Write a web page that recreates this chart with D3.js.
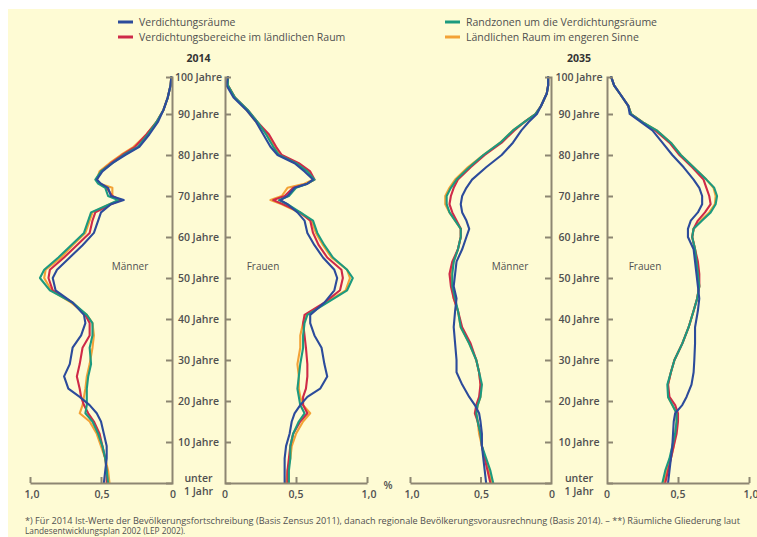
<!DOCTYPE html>
<html><head><meta charset="utf-8">
<script src="https://cdn.jsdelivr.net/npm/d3@7"></script>
<style>
html,body{margin:0;padding:0;background:#fff;}
svg{display:block;font-family:"Open Sans","Noto Sans",sans-serif;}
</style></head>
<body><svg id="c" width="757" height="537"></svg>
<script>
// ---------- DATA (share of population in %, by age) ----------
const ages2014 = [0,3,6,9,12,15,17,19,21,23,26,29,33,36,39,41,44,47,50,52,55,58,61,64,66,68,69,70,72,73,74,76,78,80,82,85,88,91,94,97,99];
const ages2035 = [0,3,6,9,12,15,17,19,21,24,27,30,34,38,42,45,48,51,54,57,60,62,64,66,68,70,72,74,77,80,83,86,88,90,92,95,97,99];

// 2014 Männer
const m2014_vr = [0.48,0.47,0.46,0.46,0.48,0.50,0.53,0.58,0.65,0.73,0.76,0.72,0.70,0.64,0.61,0.62,0.70,0.82,0.84,0.81,0.72,0.63,0.55,0.52,0.50,0.43,0.34,0.43,0.45,0.50,0.53,0.49,0.42,0.33,0.23,0.16,0.10,0.06,0.03,0.01,0.005];
const m2014_vb = [0.46,0.46,0.47,0.49,0.51,0.55,0.59,0.62,0.64,0.65,0.67,0.65,0.63,0.58,0.58,0.61,0.70,0.84,0.87,0.86,0.76,0.67,0.58,0.56,0.54,0.43,0.36,0.42,0.46,0.51,0.53,0.50,0.43,0.35,0.26,0.18,0.11,0.06,0.03,0.01,0.005];
const m2014_rz = [0.45,0.46,0.47,0.49,0.52,0.56,0.61,0.60,0.60,0.60,0.59,0.57,0.58,0.56,0.56,0.60,0.70,0.86,0.93,0.90,0.80,0.71,0.62,0.59,0.57,0.44,0.38,0.45,0.47,0.52,0.54,0.50,0.42,0.34,0.24,0.17,0.11,0.06,0.03,0.01,0.005];
const m2014_lr = [0.44,0.45,0.47,0.50,0.53,0.58,0.65,0.63,0.62,0.61,0.60,0.58,0.56,0.55,0.56,0.60,0.71,0.85,0.90,0.89,0.78,0.70,0.61,0.58,0.56,0.44,0.37,0.42,0.42,0.51,0.53,0.51,0.44,0.36,0.27,0.18,0.11,0.06,0.03,0.01,0.005];
// 2014 Frauen
const f2014_vr = [0.42,0.42,0.42,0.43,0.455,0.47,0.49,0.53,0.58,0.67,0.72,0.70,0.68,0.63,0.60,0.60,0.70,0.77,0.79,0.77,0.69,0.63,0.58,0.56,0.51,0.44,0.39,0.44,0.49,0.58,0.62,0.56,0.49,0.37,0.32,0.27,0.22,0.15,0.06,0.01,0.02];
const f2014_vb = [0.44,0.44,0.45,0.46,0.48,0.53,0.58,0.55,0.55,0.57,0.58,0.58,0.57,0.56,0.55,0.56,0.70,0.81,0.83,0.82,0.72,0.66,0.62,0.60,0.53,0.41,0.34,0.42,0.48,0.58,0.63,0.60,0.52,0.40,0.36,0.31,0.23,0.16,0.07,0.02,0.02];
const f2014_rz = [0.45,0.45,0.46,0.46,0.48,0.52,0.56,0.53,0.52,0.51,0.52,0.53,0.55,0.55,0.56,0.58,0.72,0.86,0.90,0.86,0.76,0.70,0.65,0.62,0.53,0.44,0.38,0.45,0.50,0.58,0.63,0.58,0.50,0.38,0.34,0.29,0.23,0.16,0.07,0.02,0.02];
const f2014_lr = [0.43,0.44,0.46,0.47,0.50,0.55,0.60,0.55,0.53,0.52,0.52,0.51,0.53,0.53,0.55,0.57,0.71,0.85,0.88,0.86,0.75,0.69,0.64,0.61,0.52,0.40,0.32,0.40,0.44,0.56,0.62,0.59,0.51,0.39,0.35,0.30,0.22,0.15,0.07,0.02,0.02];
// 2035 Männer
const m2035_vr = [0.46,0.47,0.48,0.49,0.49,0.50,0.51,0.54,0.58,0.63,0.67,0.67,0.68,0.69,0.68,0.67,0.69,0.68,0.67,0.63,0.60,0.58,0.60,0.63,0.64,0.63,0.60,0.56,0.46,0.35,0.27,0.21,0.16,0.10,0.07,0.03,0.02,0.02];
const m2035_vb = [0.43,0.45,0.47,0.49,0.50,0.52,0.54,0.53,0.51,0.50,0.51,0.53,0.57,0.63,0.66,0.69,0.71,0.72,0.70,0.66,0.64,0.64,0.67,0.70,0.72,0.71,0.69,0.66,0.57,0.47,0.35,0.26,0.19,0.11,0.07,0.03,0.02,0.02];
const m2035_rz = [0.41,0.43,0.46,0.49,0.50,0.52,0.53,0.52,0.50,0.49,0.51,0.53,0.58,0.64,0.66,0.68,0.70,0.70,0.69,0.66,0.64,0.64,0.68,0.72,0.74,0.74,0.71,0.67,0.58,0.48,0.36,0.27,0.19,0.11,0.07,0.03,0.02,0.02];
const m2035_lr = [0.42,0.44,0.47,0.49,0.51,0.52,0.53,0.52,0.50,0.50,0.51,0.53,0.58,0.64,0.66,0.69,0.70,0.71,0.69,0.66,0.64,0.64,0.68,0.72,0.75,0.75,0.72,0.68,0.59,0.48,0.36,0.27,0.19,0.11,0.07,0.03,0.02,0.02];
// 2035 Frauen
const f2035_vr = [0.43,0.44,0.45,0.46,0.465,0.47,0.48,0.53,0.56,0.595,0.61,0.615,0.62,0.62,0.64,0.65,0.64,0.63,0.62,0.61,0.57,0.57,0.59,0.64,0.67,0.67,0.65,0.61,0.54,0.46,0.39,0.32,0.24,0.16,0.15,0.09,0.05,0.03];
const f2035_vb = [0.41,0.43,0.45,0.47,0.49,0.50,0.50,0.48,0.44,0.43,0.45,0.475,0.53,0.575,0.61,0.635,0.65,0.65,0.64,0.62,0.60,0.61,0.64,0.69,0.73,0.72,0.70,0.68,0.60,0.51,0.44,0.34,0.25,0.17,0.15,0.09,0.05,0.03];
const f2035_rz = [0.39,0.41,0.44,0.46,0.48,0.49,0.49,0.46,0.43,0.425,0.45,0.475,0.53,0.575,0.61,0.635,0.65,0.64,0.63,0.62,0.60,0.61,0.67,0.73,0.765,0.775,0.755,0.70,0.61,0.52,0.45,0.35,0.25,0.17,0.15,0.09,0.05,0.03];
const f2035_lr = [0.40,0.42,0.45,0.47,0.48,0.49,0.49,0.46,0.43,0.43,0.45,0.475,0.53,0.575,0.61,0.635,0.65,0.64,0.63,0.62,0.60,0.61,0.66,0.72,0.76,0.765,0.75,0.70,0.61,0.52,0.45,0.35,0.25,0.17,0.15,0.09,0.05,0.03];

const seriesNames = ["Verdichtungsräume","Verdichtungsbereiche im ländlichen Raum","Randzonen um die Verdichtungsräume","Ländlichen Raum im engeren Sinne"];
const seriesColors = ["#2c4b9b","#cf2a48","#1c9a7f","#f3a236"];
const ageTicks = [10,20,30,40,50,60,70,80,90];
const ageTickLabels = ["10 Jahre","20 Jahre","30 Jahre","40 Jahre","50 Jahre","60 Jahre","70 Jahre","80 Jahre","90 Jahre"];
const xTicks = [0,0.5,1.0];
const xTickLabels = ["0","0,5","1,0"];
const years = ["2014","2035"];
const footnote = ["*) Für 2014 Ist-Werte der Bevölkerungsfortschreibung (Basis Zensus 2011), danach regionale Bevölkerungsvorausrechnung (Basis 2014). – **) Räumliche Gliederung laut",
                  "Landesentwicklungsplan 2002 (LEP 2002)."];

// ---------- DRAW ----------
const svg = d3.select("#c");
const bg = "#fefbd4", axisCol = "#8d8672", textCol = "#505050";
svg.append("rect").attr("x",8).attr("y",9).attr("width",749).attr("height",528).attr("fill",bg);

const y = d3.scaleLinear().domain([0,100]).range([483,73]);
const yAxisScale = d3.scaleLinear().domain([0,99]).range([y(0),y(99)]);

const panels = [
  {year:"2014", ages:ages2014, left:[m2014_vr,m2014_vb,m2014_rz,m2014_lr], right:[f2014_vr,f2014_vb,f2014_rz,f2014_lr], lx0:172, lx1:30, rx0:225, rx1:367, lab:198.5, m:130, f:263},
  {year:"2035", ages:ages2035, left:[m2035_vr,m2035_vb,m2035_rz,m2035_lr], right:[f2035_vr,f2035_vb,f2035_rz,f2035_lr], lx0:551, lx1:410, rx0:607, rx1:749, lab:579, m:510, f:645}
];

const order = [3,1,2,0]; // orange, red, teal, blue on top

panels.forEach(p => {
  const xl = d3.scaleLinear().domain([0,1]).range([p.lx0,p.lx1]);
  const xr = d3.scaleLinear().domain([0,1]).range([p.rx0,p.rx1]);
  const g = svg.append("g");

  // lines
  [[xl,p.left],[xr,p.right]].forEach(([xs,data]) => {
    order.forEach(si => {
      const line = d3.line().x((d,i)=>xs(data[si][i])).y(d=>y(d)).curve(d3.curveLinear);
      g.append("path").attr("d",line(p.ages)).attr("fill","none")
        .attr("stroke",seriesColors[si]).attr("stroke-width",2.1)
        .attr("stroke-linejoin","round").attr("stroke-linecap","round");
    });
  });

  // vertical axes
  const axL = g.append("g").attr("transform",`translate(${p.lx0},0)`)
    .call(d3.axisLeft(yAxisScale).tickValues(ageTicks).tickSize(6).tickSizeOuter(6).tickFormat(""));
  const axR = g.append("g").attr("transform",`translate(${p.rx0},0)`)
    .call(d3.axisRight(yAxisScale).tickValues(ageTicks).tickSize(6).tickSizeOuter(6).tickFormat(""));
  // horizontal axes
  const bxL = g.append("g").attr("transform",`translate(0,${y(0)})`)
    .call(d3.axisBottom(xl).tickValues([0.5,1.0]).tickSize(-6).tickSizeOuter(0).tickFormat(""));
  const bxR = g.append("g").attr("transform",`translate(0,${y(0)})`)
    .call(d3.axisBottom(xr).tickValues([0.5,1.0]).tickSize(-6).tickSizeOuter(0).tickFormat(""));
  [axL,axR,bxL,bxR].forEach(a => {
    a.selectAll("path,line").attr("stroke",axisCol).attr("stroke-width",2);
  });

  // age labels
  g.selectAll("text.age").data(ageTicks).enter().append("text")
    .attr("x",p.lab).attr("y",d=>y(d)).attr("dy","0.35em")
    .attr("text-anchor","middle").attr("font-size",10.5).attr("font-weight",600)
    .attr("fill",textCol).text((d,i)=>ageTickLabels[i]);
  g.append("text").attr("x",p.lab).attr("y",yAxisScale(99)).attr("dy","0.4em")
    .attr("text-anchor","middle").attr("font-size",10.5).attr("font-weight",600)
    .attr("fill",textCol).text("100 Jahre");
  g.append("text").attr("x",p.lab).attr("y",482).attr("text-anchor","middle")
    .attr("font-size",10.5).attr("font-weight",600).attr("fill",textCol).text("unter");
  g.append("text").attr("x",p.lab).attr("y",495).attr("text-anchor","middle")
    .attr("font-size",10.5).attr("font-weight",600).attr("fill",textCol).text("1 Jahr");

  // x tick labels
  xTicks.forEach((t,i)=>{
    g.append("text").attr("x",xl(t)+(t===1?2:1)).attr("y",498).attr("text-anchor","middle")
      .attr("font-size",10.5).attr("font-weight",600).attr("fill",textCol).text(xTickLabels[i]);
    g.append("text").attr("x",xr(t)+(t===1?2:0)).attr("y",498).attr("text-anchor","middle")
      .attr("font-size",10.5).attr("font-weight",600).attr("fill",textCol).text(xTickLabels[i]);
  });

  // year title
  g.append("text").attr("x",p.lab).attr("y",62).attr("text-anchor","middle")
    .attr("font-size",10.5).attr("font-weight",700).attr("fill","#333").text(p.year);
  // Männer / Frauen
  g.append("text").attr("x",p.m).attr("y",270).attr("text-anchor","middle")
    .attr("font-size",10).attr("fill",textCol).text("Männer");
  g.append("text").attr("x",p.f).attr("y",270).attr("text-anchor","middle")
    .attr("font-size",10).attr("fill",textCol).text("Frauen");
});

// % sign
svg.append("text").attr("x",388).attr("y",489).attr("text-anchor","middle")
  .attr("font-size",10.5).attr("font-weight",600).attr("fill",textCol).text("%");

// legend
const legPos = [[118,22],[118,37],[445,22],[445,37]];
seriesNames.forEach((n,i)=>{
  const [lx,ly] = legPos[i];
  svg.append("line").attr("x1",lx).attr("x2",lx+15).attr("y1",ly).attr("y2",ly)
    .attr("stroke",seriesColors[i]).attr("stroke-width",3);
  svg.append("text").attr("x",lx+21).attr("y",ly).attr("dy","0.35em")
    .attr("font-size",10.5).attr("fill",textCol).text(n);
});

// footnote
footnote.forEach((t,i)=>{
  const tx = svg.append("text").attr("x",25).attr("y",524+i*10)
    .attr("font-size",8.3).attr("fill",textCol).text(t);
  if(i===0) tx.attr("textLength",715).attr("lengthAdjust","spacingAndGlyphs");
});
</script></body></html>
